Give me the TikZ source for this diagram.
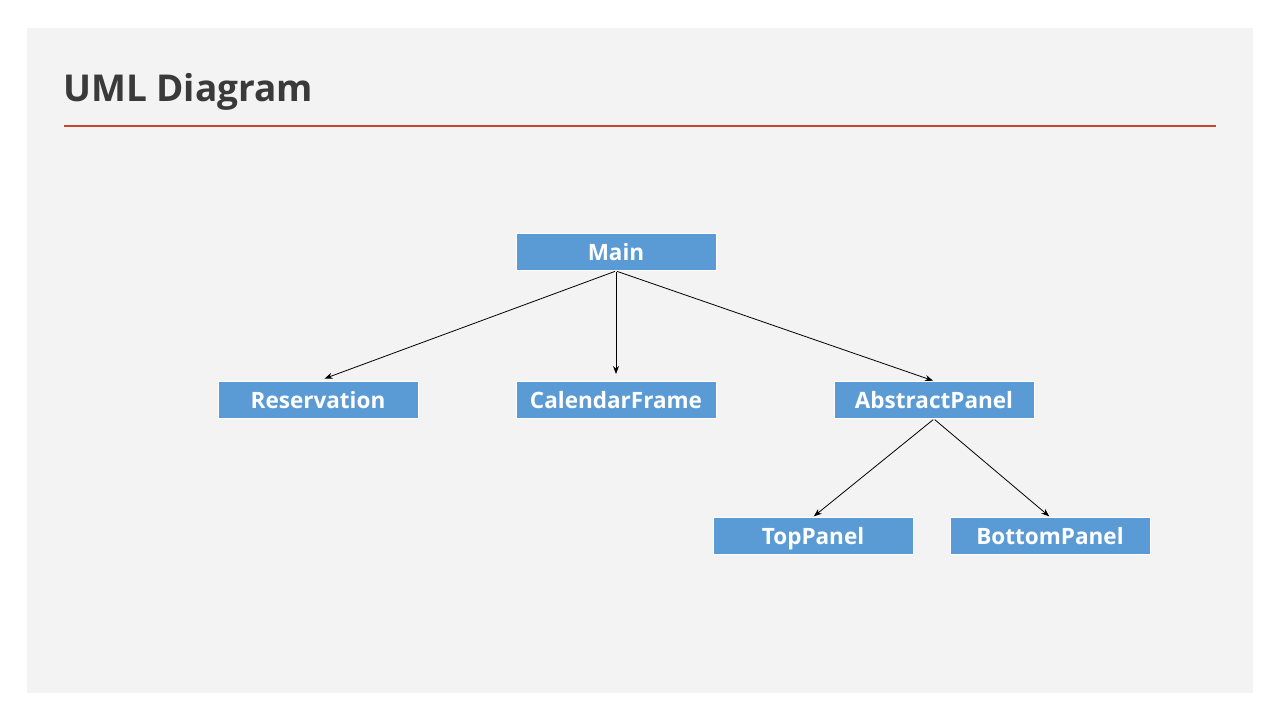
\documentclass[tikz,border=0pt]{standalone}
\usepackage{fontspec}
\setmainfont{Open Sans}
\usetikzlibrary{arrows.meta}
\definecolor{panelbg}{HTML}{F3F3F3}
\definecolor{boxblue}{HTML}{5B9BD5}
\definecolor{titlegray}{HTML}{3A3A3A}
\definecolor{rule}{HTML}{C9472F}
\tikzset{
  umlbox/.style={fill=boxblue, draw=white, line width=1pt, minimum width=200pt, minimum height=37pt, inner sep=0pt, text height=18.5pt, text depth=1.5pt, text=white, font=\fontsize{22.5}{26}\selectfont\bfseries},
  conn/.style={draw=black, line width=0.8pt, -{Stealth[length=8pt,width=6pt]}, shorten >=7pt, shorten <=1pt}
}
\begin{document}
\begin{tikzpicture}[x=1pt,y=-1pt]
\useasboundingbox (0,0) rectangle (1280,720);
\fill[white] (0,0) rectangle (1280,720);
\fill[panelbg] (27,28) rectangle (1253,693);
\node[anchor=west, text=titlegray, font=\fontsize{37}{44}\selectfont\bfseries, inner sep=0pt] (title) at (63,92) {UML Diagram};
\draw[rule, line width=2.5pt] (64,126) coordinate (r1) -- (1216,126) coordinate (r2);
\node[umlbox] (main) at (616,252) {Main};
\node[umlbox] (res) at (318,400) {Reservation};
\node[umlbox] (cal) at (616,400) {CalendarFrame};
\node[umlbox] (abs) at (934,400) {AbstractPanel};
\node[umlbox] (top) at (813,536) {TopPanel};
\node[umlbox] (bot) at (1050,536) {BottomPanel};
\draw[conn] (main.south) -- (res.north);
\draw[conn] (main.south) -- (cal.north);
\draw[conn, shorten >=1pt] (main.south) -- (abs.north);
\draw[conn, shorten >=1pt] (abs.south) -- (top.north);
\draw[conn, shorten >=1pt] (abs.south) -- (bot.north);
\end{tikzpicture}
\end{document}
